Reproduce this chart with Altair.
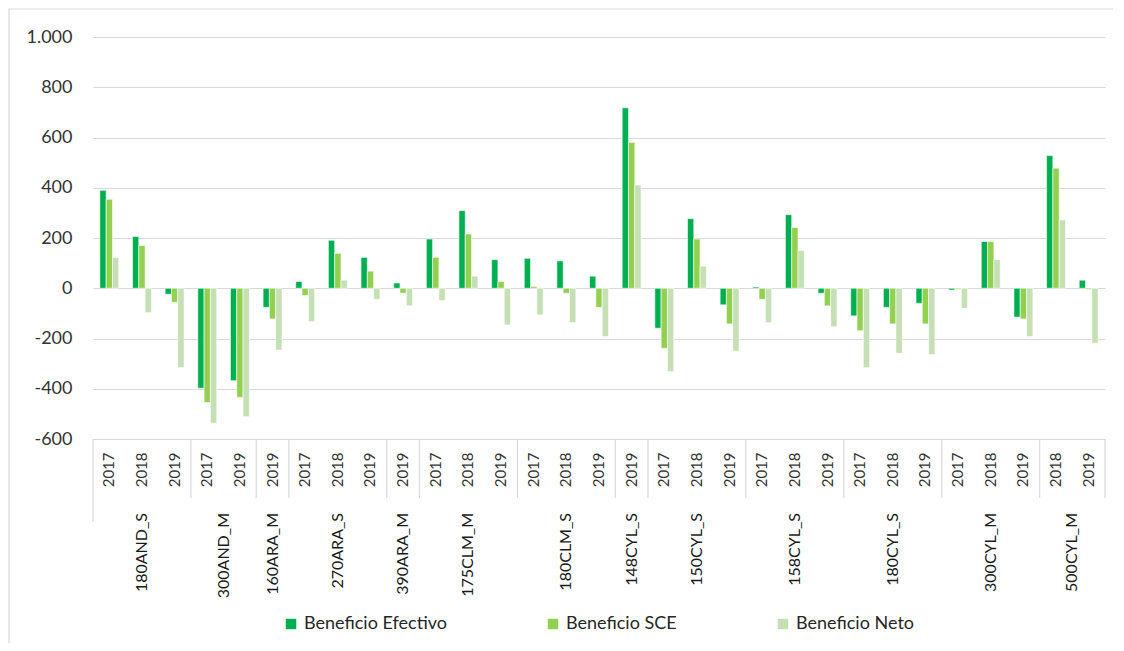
import altair as alt
import pandas as pd

group_names = ["180AND_S", "300AND_M", "160ARA_M", "270ARA_S", "390ARA_M", "175CLM_M",
               "180CLM_S", "148CYL_S", "150CYL_S", "158CYL_S", "180CYL_S", "300CYL_M", "500CYL_M"]
group_years = [["2017", "2018", "2019"], ["2017", "2019"], ["2019"], ["2017", "2018", "2019"],
               ["2019"], ["2017", "2018", "2019"], ["2017", "2018", "2019"], ["2019"],
               ["2017", "2018", "2019"], ["2017", "2018", "2019"], ["2017", "2018", "2019"],
               ["2017", "2018", "2019"], ["2018", "2019"]]

series = ["Beneficio Efectivo", "Beneficio SCE", "Beneficio Neto"]
colors = ["#00B050", "#92D050", "#C5E0B4"]

efectivo = [390, 206, -24, -398, -368, -76, 27, 191, 123, 21, 196, 309, 114, 119, 109, 48,
            718, -159, 277, -66, 5, 293, -20, -110, -76, -60, -7, 186, -115, 528, 32]
sce = [354, 170, -56, -455, -434, -122, -29, 139, 68, -20, 123, 216, 27, 7, -20, -76,
       580, -239, 196, -142, -44, 242, -70, -169, -142, -142, -5, 186, -122, 478, -5]
neto = [123, -97, -316, -537, -511, -246, -133, 32, -44, -70, -49, 48, -146, -106, -137, -192,
        411, -332, 88, -250, -137, 150, -153, -316, -259, -264, -80, 114, -192, 272, -219]

# ---- build tables ----
keys = []
for g, ys in zip(group_names, group_years):
    for y in ys:
        keys.append(f"{g}|{y}")

rows = []
for i, k in enumerate(keys):
    for s, vals in zip(series, [efectivo, sce, neto]):
        rows.append({"key": k, "serie": s, "valor": vals[i]})
bars_df = pd.DataFrame(rows)

n_slots = len(keys)
bounds = [0]
for ys in group_years:
    bounds.append(bounds[-1] + len(ys))
sep_df = pd.DataFrame({"pos": bounds[1:]})
edge_df = pd.DataFrame({"pos": bounds[:1]})
lab_df = pd.DataFrame({
    "name": group_names,
    "center": [(bounds[i] + bounds[i + 1]) / 2 for i in range(len(group_names))],
})

W, H = 1012, 402
FONT = "Lato"

bars = alt.Chart(bars_df).mark_bar(stroke="white", strokeWidth=0.6).encode(
    x=alt.X("key:N", sort=keys,
            scale=alt.Scale(paddingInner=0.42, paddingOuter=0.21),
            axis=alt.Axis(title=None, labelExpr="split(datum.value, '|')[1]",
                          labelAngle=270, labelFontSize=15, labelFont=FONT,
                          labelColor="#333333", domain=False, ticks=False,
                          labelPadding=13, grid=False)),
    xOffset=alt.XOffset("serie:N", sort=series, scale=alt.Scale(paddingInner=0, paddingOuter=0)),
    y=alt.Y("valor:Q", scale=alt.Scale(domain=[-600, 1000], nice=False, zero=False),
            axis=alt.Axis(title=None, values=list(range(-600, 1001, 200)),
                          labelExpr="(datum.value < 0 ? '-' : '') + replace(format(abs(datum.value), ','), ',', '.')",
                          labelFont=FONT, labelFontSize=18, labelColor="#333333",
                          labelPadding=21, domain=False, ticks=False,
                          grid=True, gridColor="#d9d9d9", gridWidth=1.2)),
    color=alt.Color("serie:N", sort=series,
                    scale=alt.Scale(domain=series, range=colors),
                    legend=alt.Legend(title=None, orient="none", direction="horizontal",
                                      legendX=189, legendY=578, symbolType="square",
                                      symbolSize=110, symbolStrokeWidth=0,
                                      labelFont=FONT, labelFontSize=18, labelColor="#262626",
                                      columnPadding=97, labelOffset=4, padding=0)),
)

xq = alt.Scale(domain=[0, n_slots], nice=False, zero=False)

seps = alt.Chart(sep_df).mark_rule(color="#d9d9d9", strokeWidth=1.2).encode(
    x=alt.X("pos:Q", scale=xq, axis=None),
    y=alt.value(H),
    y2=alt.value(H + 59),
)

edge = alt.Chart(edge_df).mark_rule(color="#d9d9d9", strokeWidth=1.2).encode(
    x=alt.X("pos:Q", scale=xq, axis=None),
    y=alt.value(H),
    y2=alt.value(H + 83),
)

glabels = alt.Chart(lab_df).mark_text(angle=270, align="right", baseline="middle",
                                      font=FONT, fontSize=16, color="#1a1a1a").encode(
    x=alt.X("center:Q", scale=xq, axis=None),
    y=alt.value(H + 74),
    text="name:N",
)

frame = alt.Chart(pd.DataFrame({"a": [0]})).mark_rect(fill=None, stroke="#d9d9d9", strokeWidth=1.2).encode(
    x=alt.value(-84), x2=alt.value(W + 60), y=alt.value(-28), y2=alt.value(H + 300)
)

chart = alt.layer(frame, bars, seps, edge, glabels).resolve_scale(x="independent").properties(
    width=W, height=H,
    autosize=alt.AutoSizeParams(type="none"),
    padding={"left": 85, "top": 29, "right": 8, "bottom": 204},
).configure_view(strokeWidth=0)

chart.save("out.html", embed_options={"renderer": "svg", "actions": False})
